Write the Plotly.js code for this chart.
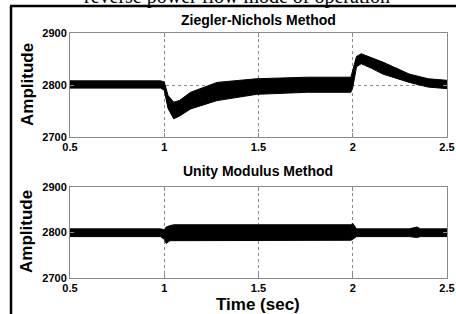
<!DOCTYPE html>
<html><head><meta charset="utf-8">
<script src="https://cdn.plot.ly/plotly-3.0.1.min.js"></script>
<style>html,body{margin:0;padding:0;background:#fff;}#chart{width:456px;height:314px;}</style>
</head><body><div id="chart"></div>
<script>
// Ziegler-Nichols response envelope (band of the noisy signal)
const znTime  = [0.5, 0.98, 1.0, 1.02, 1.05, 1.08, 1.14, 1.28, 1.49, 1.76, 1.99, 2.0, 2.02, 2.045, 2.1, 2.16, 2.3, 2.4, 2.5];
const znUpper = [2808, 2808, 2806, 2780, 2767, 2770, 2786, 2805, 2812, 2815, 2815, 2830, 2855, 2860, 2853, 2844, 2821, 2812, 2809];
const znLower = [2794, 2794, 2790, 2755, 2735, 2740, 2754, 2770, 2782, 2786, 2786, 2795, 2835, 2841, 2832, 2821, 2805, 2796, 2793];
// Unity Modulus response envelope
const umTime  = [0.5, 0.98, 1.0, 1.01, 1.03, 1.05, 1.5, 1.99, 2.0, 2.02, 2.3, 2.33, 2.34, 2.36, 2.5];
const umUpper = [2808, 2808, 2806, 2812, 2815, 2817, 2817, 2817, 2820, 2808, 2808, 2810, 2812, 2808, 2808];
const umLower = [2791, 2791, 2785, 2776, 2782, 2782, 2782, 2783, 2785, 2791, 2791, 2790, 2789, 2791, 2791];
// Axis ticks
const xTicks = [0.5, 1, 1.5, 2, 2.5];
const xTickText = ['0.5', '1', '1.5', '2', '2.5'];
const yTicks = [2700, 2800, 2900];
const titles = ['Ziegler-Nichols Method', 'Unity Modulus Method'];
const figTitle = 'reverse power flow mode of operation';

const W = 456, H = 314;
const px = x => x / W, py = y => 1 - y / H;

function band(t, lo, hi, xa, ya) {
  return [
    {x: t, y: lo, xaxis: xa, yaxis: ya, mode: 'lines', line: {color: '#000', width: 1}, hoverinfo: 'skip', showlegend: false},
    {x: t, y: hi, xaxis: xa, yaxis: ya, mode: 'lines', fill: 'tonexty', fillcolor: '#000', line: {color: '#000', width: 1}, hoverinfo: 'skip', showlegend: false}
  ];
}
const data = [...band(znTime, znLower, znUpper, 'x', 'y'), ...band(umTime, umLower, umUpper, 'x2', 'y2')];

const tickfont = {family: 'Liberation Sans, Arial, sans-serif', size: 11, color: '#000', weight: 'bold'};
function xa(anchor) {
  return {domain: [px(70), px(447)], anchor: anchor, range: [0.5, 2.5], tickvals: xTicks, ticktext: xTickText,
    showline: true, mirror: 'ticks', linecolor: '#8a8a8a', linewidth: 1, ticks: 'inside', ticklen: 4, tickcolor: '#8a8a8a',
    showgrid: true, gridcolor: '#8a8a8a', griddash: 'dot', gridwidth: 1, zeroline: false, tickfont: tickfont, ticklabelstandoff: 0};
}
function ya(anchor, top, bot) {
  return {domain: [py(bot), py(top)], anchor: anchor, range: [2700, 2900], tickvals: yTicks,
    showline: true, mirror: 'ticks', linecolor: '#8a8a8a', linewidth: 1, ticks: 'inside', ticklen: 4, tickcolor: '#8a8a8a',
    showgrid: true, gridcolor: '#8a8a8a', griddash: 'dot', gridwidth: 1, zeroline: false, tickfont: tickfont, ticklabelstandoff: 0};
}
const bold = (s) => ({family: 'Liberation Sans, Arial, sans-serif', size: s, color: '#000', weight: 'bold'});
const layout = {
  width: W, height: H, margin: {l: 0, r: 0, t: 0, b: 0}, paper_bgcolor: '#fff', plot_bgcolor: '#fff', showlegend: false,
  xaxis: xa('y'), yaxis: ya('x', 33, 137),
  xaxis2: xa('y2'), yaxis2: ya('x2', 187, 278),
  annotations: [
    {text: figTitle, xref: 'paper', yref: 'paper', x: px(237), y: py(-3), showarrow: false, xanchor: 'center', yanchor: 'middle',
     font: {family: 'Liberation Serif, Times New Roman, serif', size: 20, color: '#000'}},
    {text: titles[0], xref: 'paper', yref: 'paper', x: px(258), y: py(20), showarrow: false, xanchor: 'center', yanchor: 'middle', font: bold(14)},
    {text: titles[1], xref: 'paper', yref: 'paper', x: px(258), y: py(171), showarrow: false, xanchor: 'center', yanchor: 'middle', font: bold(14)},
    {text: 'Amplitude', xref: 'paper', yref: 'paper', x: px(27), y: py(85), showarrow: false, textangle: -90, xanchor: 'center', yanchor: 'middle', font: bold(17)},
    {text: 'Amplitude', xref: 'paper', yref: 'paper', x: px(27), y: py(232), showarrow: false, textangle: -90, xanchor: 'center', yanchor: 'middle', font: bold(17)},
    {text: 'Time (sec)', xref: 'paper', yref: 'paper', x: px(258), y: py(304), showarrow: false, xanchor: 'center', yanchor: 'middle', font: bold(17)}
  ],
  shapes: [
    {type: 'line', xref: 'paper', yref: 'paper', x0: px(10), x1: 1, y0: py(6), y1: py(6), line: {color: '#000', width: 2.5}},
    {type: 'line', xref: 'paper', yref: 'paper', x0: px(11), x1: px(11), y0: py(6), y1: 0, line: {color: '#000', width: 2.5}}
  ]
};
Plotly.newPlot('chart', data, layout, {staticPlot: true, displayModeBar: false});
</script>
</body></html>
